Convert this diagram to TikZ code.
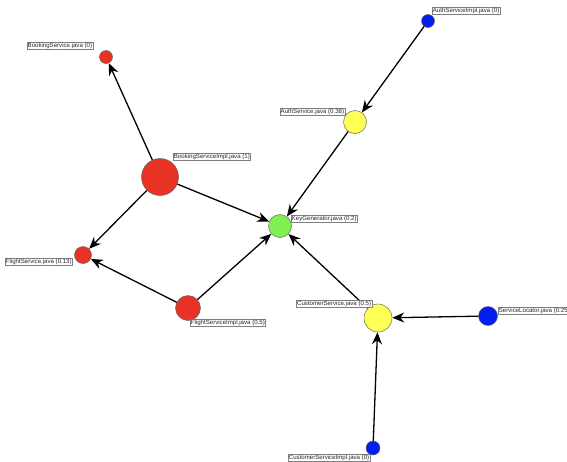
\documentclass[tikz,border=0pt]{standalone}
\usepackage{fontspec}
\setmainfont{Liberation Sans}
\usetikzlibrary{arrows.meta}
\definecolor{nred}{RGB}{232,50,38}
\definecolor{ngreen}{RGB}{128,240,80}
\definecolor{nyellow}{RGB}{255,255,85}
\definecolor{nblue}{RGB}{5,30,240}
\begin{document}
\begin{tikzpicture}[x=1pt,y=-1pt,
  cls/.style={circle,draw=gray!80!black,line width=0.5pt,inner sep=0pt,minimum size=#1},
  lbl/.style={draw=gray,line width=0.4pt,fill=white,inner sep=0.7pt,font=\fontsize{6.1}{6.5}\selectfont,text=black!85},
  dep/.style={line width=1.3pt,-{Stealth[length=12pt,width=10pt,inset=4pt]}}]
\useasboundingbox (0,0) rectangle (567,461);
% nodes
\node[cls=13pt,fill=nred] (bs) at (106,57) {};
\node[cls=37pt,fill=nred] (bsi) at (160,177) {};
\node[cls=23pt,fill=ngreen] (kg) at (280,226) {};
\node[cls=17pt,fill=nred] (fs) at (83,255) {};
\node[cls=25pt,fill=nred] (fsi) at (188,308) {};
\node[cls=28pt,fill=nyellow] (cs) at (378,318) {};
\node[cls=19pt,fill=nblue] (sl) at (488,316) {};
\node[cls=14pt,fill=nblue] (csi) at (373,448) {};
\node[cls=13pt,fill=nblue] (asi) at (428,21) {};
\node[cls=23pt,fill=nyellow] (as) at (355,122) {};
% edges
\draw[dep] (bsi) -- (bs);
\draw[dep] (bsi) -- (fs);
\draw[dep] (bsi) -- (kg);
\draw[dep] (fsi) -- (fs);
\draw[dep] (fsi) -- (kg);
\draw[dep] (asi) -- (as);
\draw[dep] (as) -- (kg);
\draw[dep] (cs) -- (kg);
\draw[dep] (sl) -- (cs);
\draw[dep] (csi) -- (cs);
% labels
\node[lbl,anchor=east] (lbs) at (93,46) {BookingService.java (0)};
\node[lbl,anchor=west] (lbsi) at (173,157) {BookingServiceImpl.java (1)};
\node[lbl,anchor=west] (lkg) at (291,219) {KeyGenerator.java (0.2)};
\node[lbl,anchor=west] (lfs) at (5,262) {FlightService.java (0.13)};
\node[lbl,anchor=west] (lfsi) at (190,323) {FlightServiceImpl.java (0.5)};
\node[lbl,anchor=east] (lcs) at (372,304) {CustomerService.java (0.5)};
\node[lbl,anchor=west] (lsl) at (498,311) {ServiceLocator.java (0.25)};
\node[lbl,anchor=west] (lcsi) at (288,458) {CustomerServiceImpl.java (0)};
\node[lbl,anchor=west] (lasi) at (432,11) {AuthServiceImpl.java (0)};
\node[lbl,anchor=east] (las) at (345,112) {AuthService.java (0.38)};
\end{tikzpicture}
\end{document}
